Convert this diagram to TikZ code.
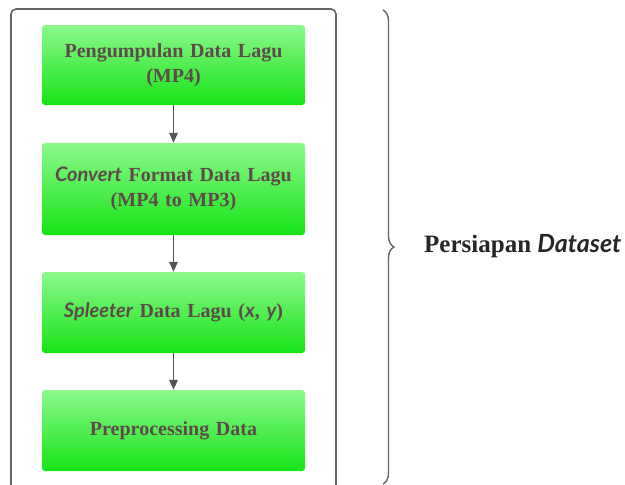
\documentclass[tikz,border=0pt]{standalone}
\usepackage{fontspec}
\setmainfont{Liberation Serif}
\newfontfamily\itsans{Lato}
\newcommand{\itw}[1]{{\itsans\bfseries\itshape #1}}
\usetikzlibrary{arrows.meta,decorations.pathreplacing}
\definecolor{txtc}{HTML}{5E4A4A}
\definecolor{lineg}{HTML}{666666}
\definecolor{arrg}{HTML}{555555}
\definecolor{gtop}{HTML}{8CF98C}
\definecolor{gbot}{HTML}{16E316}
\tikzset{
  stepbox/.style={rounded corners=3pt, top color=gtop, bottom color=gbot, draw=none,
    minimum width=263pt, text width=255pt, align=center, inner sep=0pt,
    font=\fontsize{20}{24.5}\selectfont\bfseries, text=txtc},
  conn/.style={draw=arrg, line width=1.8pt, -{Triangle[length=10pt,width=8.5pt]}},
}
\begin{document}
\begin{tikzpicture}[x=1pt,y=-1pt]
\clip (0,0) rectangle (625,485);
\useasboundingbox (0,0) rectangle (625,485);
\draw[lineg, line width=1.6pt, rounded corners=5pt] (11,9) rectangle (336,520);
\node[stepbox, minimum height=80pt] (b1) at (173.5,65) {Pengumpulan Data Lagu\\(MP4)};
\node[stepbox, minimum height=92pt] (b2) at (173.5,189) {\itw{Convert} Format Data Lagu\\(MP4 to MP3)};
\node[stepbox, minimum height=81pt] (b3) at (173.5,312.5) {\itw{Spleeter} Data Lagu (\itw{x}, \itw{y})};
\node[stepbox, minimum height=81pt] (b4) at (173.5,430.5) {Preprocessing Data};
\draw[conn] (b1) -- (b2);
\draw[conn] (b2) -- (b3);
\draw[conn] (b3) -- (b4);
\coordinate (bt) at (383,10);
\coordinate (bb) at (383,484);
\draw[lineg, line width=1.4pt, decorate, decoration={brace, amplitude=11pt}] (bt) -- (bb);
\node[anchor=west, font=\fontsize{25}{30}\selectfont\bfseries, text=black!85, inner sep=0pt] (lbl) at (424,246) {Persiapan \itw{Dataset}};
\end{tikzpicture}
\end{document}
